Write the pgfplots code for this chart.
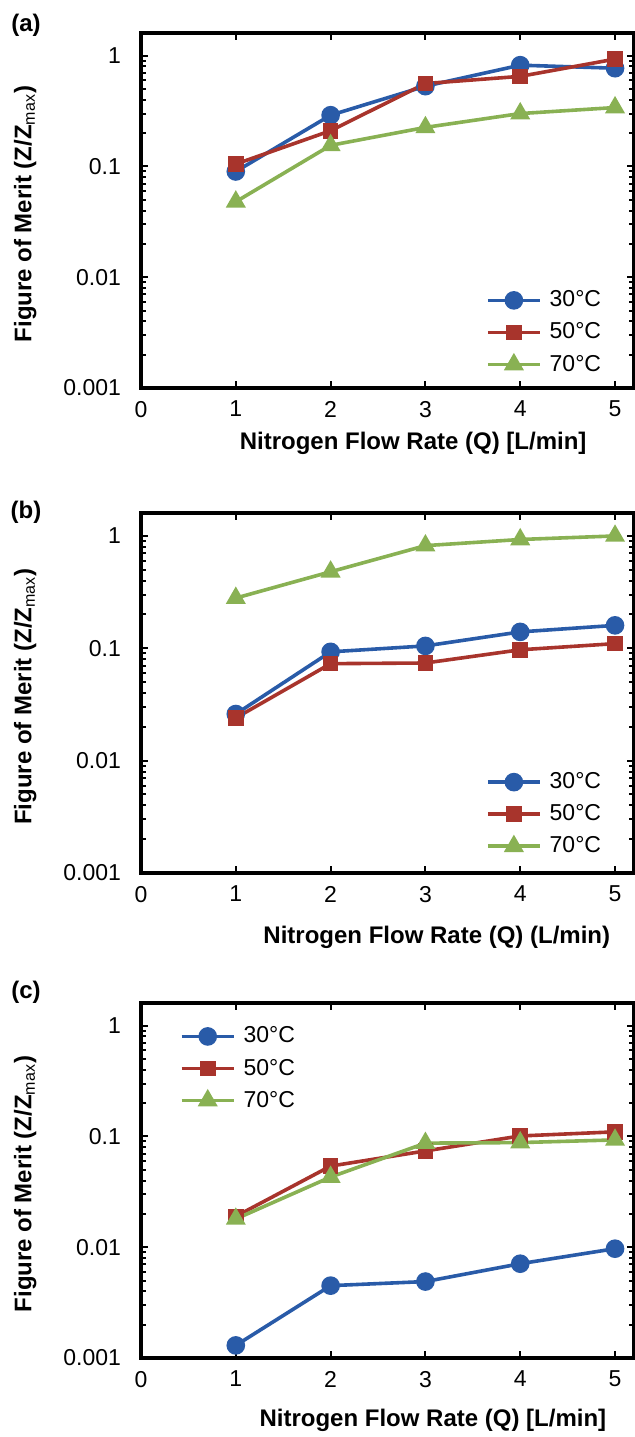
\documentclass[border=0pt]{standalone}
\usepackage{fontspec}
\setmainfont{Liberation Sans}
\usepackage{pgfplots}
\pgfplotsset{compat=1.18}
\definecolor{c30}{RGB}{41,91,168}
\definecolor{c50}{RGB}{168,52,44}
\definecolor{c70}{RGB}{137,177,83}
\pgfplotsset{
  panel/.style={
    scale only axis, width=246.5pt,
    xmin=0, xmax=5.2, ymin=0.001, ymax=1.6,
    xtick={0,1,2,3,4,5}, xticklabels={0,1,2,3,4,5},
    ytick={0.001,0.01,0.1,1}, yticklabels={0.001,0.01,0.1,1},
    tick align=inside, major tick length=3.5pt, minor tick length=2.5pt,
    every tick/.style={black, line width=1pt},
    axis line style={line width=1.6pt},
    tick label style={font=\fontsize{11.5}{13}\selectfont},
    yticklabel style={xshift=-6.5pt},
    xticklabel style={yshift=-3pt},
    label style={font=\bfseries\fontsize{12}{14}\selectfont},
    ylabel={Figure of Merit (Z/Z\textsubscript{\mdseries max})},
    ylabel style={at={(axis description cs:-0.235,0.49)}, anchor=center},
    legend cell align=left,
    legend style={draw=none, fill=none, inner sep=0pt, outer sep=0pt,
      row sep=2.5pt, column sep=2pt,
      font=\fontsize{11.5}{13}\selectfont},
    legend image code/.code={\draw[mark repeat=2,mark phase=2] plot coordinates {(0pt,0pt)(13pt,0pt)(26pt,0pt)};},
  },
  s30/.style={color=c30, line width=1.8pt, mark=*, mark size=3.75pt, mark options={solid}},
  s50/.style={color=c50, line width=1.8pt, mark=square*, mark size=3pt, mark options={solid}},
  s70/.style={color=c70, line width=1.8pt, mark=triangle*, mark size=4pt, mark options={solid}},
}
\begin{document}
\begin{tikzpicture}
\useasboundingbox (0,0) rectangle (317.5pt,-718.5pt);
% (a)
\begin{axis}[ymode=log, panel, /pgf/number format/assume math mode=true,
  height=177.5pt, at={(70.5pt,-16.5pt)}, anchor=north west,
  xlabel={Nitrogen Flow Rate (Q) [L/min]},
  xlabel style={at={(axis description cs:0.552,-0.155)}, anchor=center},
  legend style={at={(axis description cs:0.70,0.285)}, anchor=north west}]
\addplot[s30] coordinates {(1,0.090) (2,0.29) (3,0.53) (4,0.82) (5,0.77)};
\addplot[s50] coordinates {(1,0.105) (2,0.21) (3,0.56) (4,0.65) (5,0.93)};
\addplot[s70] coordinates {(1,0.048) (2,0.155) (3,0.225) (4,0.30) (5,0.34)};
\legend{30°C,50°C,70°C}
\end{axis}
% (b)
\begin{axis}[ymode=log, panel, /pgf/number format/assume math mode=true,
  height=180pt, at={(70.5pt,-256.5pt)}, anchor=north west,
  xlabel={Nitrogen Flow Rate (Q) (L/min)},
  xlabel style={at={(axis description cs:0.60,-0.18)}, anchor=center},
  legend style={at={(axis description cs:0.70,0.29)}, anchor=north west}]
\addplot[s30] coordinates {(1,0.026) (2,0.093) (3,0.105) (4,0.14) (5,0.16)};
\addplot[s50] coordinates {(1,0.024) (2,0.073) (3,0.074) (4,0.097) (5,0.11)};
\addplot[s70] coordinates {(1,0.28) (2,0.48) (3,0.82) (4,0.93) (5,1.0)};
\legend{30°C,50°C,70°C}
\end{axis}
% (c)
\begin{axis}[ymode=log, panel, /pgf/number format/assume math mode=true,
  height=177.5pt, at={(70.5pt,-501.5pt)}, anchor=north west,
  xlabel={Nitrogen Flow Rate (Q) [L/min]},
  xlabel style={at={(axis description cs:0.592,-0.175)}, anchor=center},
  legend style={at={(axis description cs:0.079,0.944)}, anchor=north west}]
\addplot[s30] coordinates {(1,0.0013) (2,0.0045) (3,0.0049) (4,0.0071) (5,0.0097)};
\addplot[s50] coordinates {(1,0.019) (2,0.054) (3,0.074) (4,0.101) (5,0.11)};
\addplot[s70] coordinates {(1,0.018) (2,0.043) (3,0.087) (4,0.088) (5,0.093)};
\legend{30°C,50°C,70°C}
\end{axis}
\node[font=\bfseries\fontsize{12}{14}\selectfont] at (13pt,-12.5pt) {(a)};
\node[font=\bfseries\fontsize{12}{14}\selectfont] at (13pt,-256pt) {(b)};
\node[font=\bfseries\fontsize{12}{14}\selectfont] at (13pt,-496pt) {(c)};
\end{tikzpicture}
\end{document}
